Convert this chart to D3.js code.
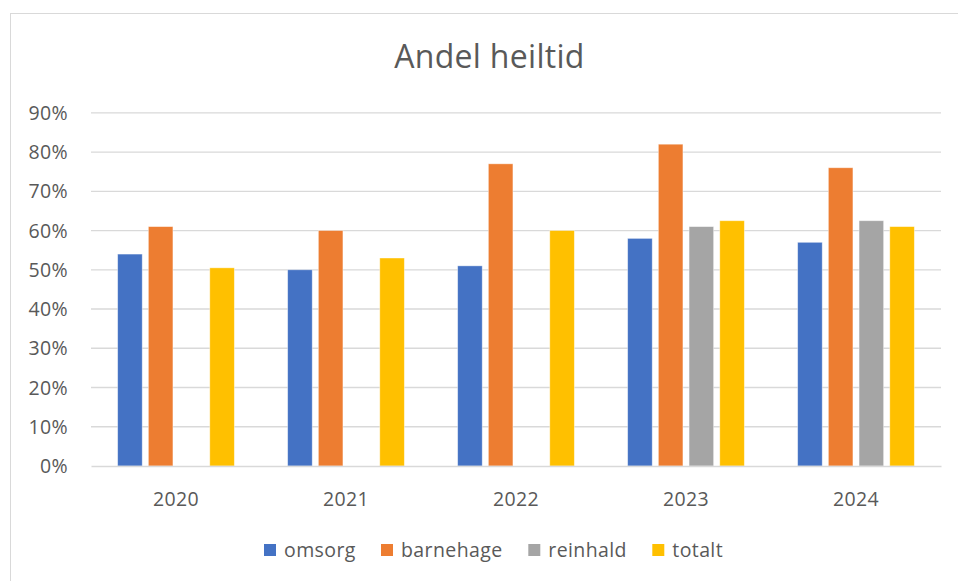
<!DOCTYPE html>
<html><head><meta charset="utf-8">
<script src="https://cdn.jsdelivr.net/npm/d3@7"></script>
<style>body{margin:0;background:#fff}svg{display:block}</style>
</head><body>
<script>
const years = ["2020","2021","2022","2023","2024"];
const seriesNames = ["omsorg","barnehage","reinhald","totalt"];
const omsorg    = [54, 50, 51, 58, 57];
const barnehage = [61, 60, 77, 82, 76];
const reinhald  = [null, null, null, 61, 62.5];
const totalt    = [50.5, 53, 60, 62.5, 61];
const yTicks = [0,10,20,30,40,50,60,70,80,90];
const colors = ["#4472C4","#ED7D31","#A5A5A5","#FFC000"];
const title = "Andel heiltid";

(function(){
const values = [omsorg, barnehage, reinhald, totalt];
const W = 958, H = 581;
const font = "'Open Sans', sans-serif";
const fs = 19.5;
const svg = d3.select("body").append("svg").attr("width", W).attr("height", H);

svg.append("rect").attr("x",10.5).attr("y",13.5).attr("width",W).attr("height",H)
  .attr("fill","#fff").attr("stroke","#d9d9d9").attr("stroke-width",1);

const pl = 91, pr = 941, pt = 112.8, pb = 466;
const y = d3.scaleLinear().domain([0,90]).range([pb, pt]);
const x0 = d3.scaleBand().domain(years).range([pl, pr]).padding(0);
const inner = 116.7;
const x1 = d3.scaleBand().domain(seriesNames).range([0, inner]).paddingInner(0.2).paddingOuter(0);
const off = (x0.bandwidth() - inner) / 2;

svg.append("g").selectAll("line").data(yTicks.filter(t => t > 0)).join("line")
  .attr("x1", pl).attr("x2", pr)
  .attr("y1", d => y(d)).attr("y2", d => y(d))
  .attr("stroke", "#d9d9d9").attr("stroke-width", 1.3);

const yAxis = d3.axisLeft(y).tickValues(yTicks).tickFormat(d => d + "%").tickSize(0).tickPadding(0);
const ga = svg.append("g").attr("transform", `translate(68,0)`).call(yAxis);
ga.select(".domain").remove();
ga.selectAll("text").attr("font-family", font).attr("font-size", fs).attr("fill", "#595959")
  .attr("letter-spacing", 0.4).attr("dy", "0.34em");

const data = [];
years.forEach((yr, i) => seriesNames.forEach((s, j) => {
  if (values[j][i] != null) data.push({yr, s, v: values[j][i], c: colors[j]});
}));
svg.append("g").selectAll("rect").data(data).join("rect")
  .attr("x", d => x0(d.yr) + off + x1(d.s))
  .attr("width", x1.bandwidth())
  .attr("y", d => y(d.v))
  .attr("height", d => pb - y(d.v))
  .attr("fill", d => d.c)
  .attr("stroke", "#fff").attr("stroke-opacity", 0.5).attr("stroke-width", 0.8);

const xAxis = d3.axisBottom(x0).tickSize(0).tickPadding(0);
const gx = svg.append("g").attr("transform", `translate(0,${pb})`).call(xAxis);
gx.select(".domain").attr("stroke", "#d9d9d9").attr("stroke-width", 1.3);
gx.selectAll("text").attr("font-family", font).attr("font-size", fs).attr("fill", "#595959")
  .attr("letter-spacing", 0.4).attr("dy", "0").attr("y", 39.5);

svg.append("text").attr("x", 489.5).attr("y", 67.5).attr("text-anchor", "middle")
  .attr("font-family", font).attr("font-size", 32).attr("letter-spacing", 0.3)
  .attr("fill", "#595959").text(title);

const legX = [264, 381, 528.3, 652.3];
const lg = svg.append("g").selectAll("g").data(seriesNames).join("g")
  .attr("transform", (d, i) => `translate(${legX[i]},550)`);
lg.append("rect").attr("x", 0).attr("y", -6).attr("width", 12).attr("height", 12)
  .attr("fill", (d, i) => colors[i]);
lg.append("text").attr("x", 20).attr("y", 7).attr("font-family", font).attr("font-size", fs)
  .attr("letter-spacing", 0.4).attr("fill", "#595959").text(d => d);
})();
</script>
</body></html>
